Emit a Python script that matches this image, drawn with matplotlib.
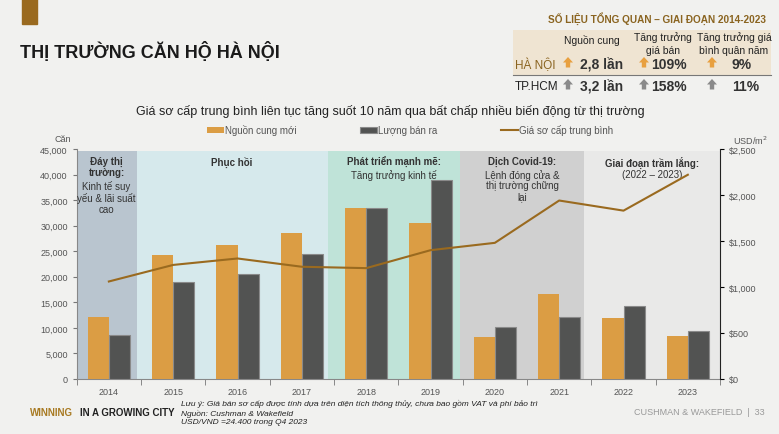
import numpy as np
import matplotlib
matplotlib.use("Agg")
import matplotlib.pyplot as plt
import matplotlib.patches as patches

plt.rcParams['font.family'] = ['Liberation Sans', 'DejaVu Sans']

years = ['2014', '2015', '2016', '2017', '2018', '2019', '2020', '2021', '2022', '2023']
supply = [12200, 24200, 26300, 28600, 33500, 30600, 8300, 16600, 11900, 8400]
sold = [8700, 19000, 20500, 24400, 33500, 38900, 10100, 12200, 14300, 9400]
price = [1060, 1240, 1310, 1220, 1205, 1400, 1480, 1940, 1830, 2220]

# phases: (start, end) in category units, colour, bold title, subtitle
phases = [
    (-0.5, 0.43, '#b9c5cf', 'Đáy thị\ntrường:', 'Kinh tế suy\nyếu & lãi suất\ncao'),
    (0.43, 3.40, '#d6e9ec', 'Phục hồi', ''),
    (3.40, 5.46, '#bfe3d8', 'Phát triển mạnh mẽ:', 'Tăng trưởng kinh tế'),
    (5.46, 7.39, '#d0d0d0', 'Dịch Covid-19:', 'Lệnh đóng cửa &\nthị trường chững\nlại'),
    (7.39, 9.5, '#e9e9e8', 'Giai đoạn trầm lắng:', '(2022 – 2023)'),
]

c_supply = '#db9d44'
c_sold = '#525352'
c_line = '#9a6a1f'
c_tick = '#555555'

W, H = 779, 435
fig = plt.figure(figsize=(7.79, 4.35), dpi=100)
fig.patch.set_facecolor('#f1f1ef')


def fx(px):
    return px / W


def fy(py):
    return 1 - py / H


ax = fig.add_axes([fx(76.7), 55 / H, (720 - 76.7) / W, 230 / H])
ax.set_facecolor('none')
x = np.arange(len(years))
ax.set_xlim(-0.5, 9.5)
ax.set_ylim(0, 45000)

for s, e, col, head, sub in phases:
    ax.axvspan(s, e, ymin=0, ymax=0.992, color=col, zorder=0, lw=0)
    cx = (s + e) / 2
    ax.text(cx, 43700, head, ha='center', va='top', fontsize=7, fontweight='bold',
            color='#333333', linespacing=1.1, zorder=5)
    if sub:
        nl = head.count('\n')
        ax.text(cx, 43700 - 2250 * (nl + 1) - 300, sub, ha='center', va='top', fontsize=7,
                color='#333333', linespacing=1.1, zorder=5)

w = 0.33
ax.bar(x - w / 2, supply, w, color=c_supply, zorder=3, label='Nguồn cung mới')
ax.bar(x + w / 2, sold, w, color=c_sold, edgecolor='#8a8a8a', linewidth=0.8, zorder=3,
       label='Lượng bán ra')

ax.set_yticks(np.arange(0, 45001, 5000))
ax.set_yticklabels([f'{v:,}' for v in range(0, 45001, 5000)])
ax.set_xticks(x)
ax.set_xticklabels(years)
ax.set_xticks(np.arange(-0.5, 10, 1), minor=True)
ax.tick_params(axis='x', which='major', length=0, labelsize=6.5, labelcolor=c_tick, pad=6)
ax.tick_params(axis='x', which='minor', length=4, color='#777777', direction='out')
ax.tick_params(axis='y', labelsize=6.5, labelcolor=c_tick, length=3, color='#777777')
for sp in ['top', 'right']:
    ax.spines[sp].set_visible(False)
ax.spines['left'].set_color('#888888')
ax.spines['bottom'].set_color('#888888')

ax2 = ax.twinx()
ax2.set_ylim(0, 2500)
ax2.plot(x, price, color=c_line, lw=1.5, zorder=6, label='Giá sơ cấp trung bình')
ax2.set_yticks(np.arange(0, 2501, 500))
ax2.set_yticklabels([f'${v:,}' for v in range(0, 2501, 500)])
ax2.tick_params(axis='y', labelsize=6.5, labelcolor=c_tick, length=3)
for sp in ['top', 'left', 'bottom']:
    ax2.spines[sp].set_visible(False)
ax2.spines['right'].set_color('#222222')

h1, l1 = ax.get_legend_handles_labels()
h2, l2 = ax2.get_legend_handles_labels()
fig.legend(h1 + h2, l1 + l2, loc='center', bbox_to_anchor=(fx(410), fy(131)), ncol=3,
           frameon=False, fontsize=7, handlelength=1.7, handletextpad=0.1, columnspacing=6.6,
           handleheight=0.6, labelcolor='#555555')

fig.text(fx(55), fy(140), 'Căn', fontsize=6.5, color=c_tick, ha='left', va='center')
fig.text(fx(733), fy(141), 'USD/m$^2$', fontsize=6.5, color=c_tick, ha='left', va='center')
fig.text(fx(390), fy(112),
         'Giá sơ cấp trung bình liên tục tăng suốt 10 năm qua bất chấp nhiều biến động từ thị trường',
         fontsize=9, color='#222222', ha='center', va='center')

# header
fig.patches.append(patches.Rectangle((fx(22), fy(25)), 15 / W, 25 / H,
                                     transform=fig.transFigure, color='#9a6a1f'))
fig.text(fx(20), fy(52), 'THỊ TRƯỜNG CĂN HỘ HÀ NỘI', fontsize=13, fontweight='bold',
         color='#1a1a1a', ha='left', va='center')

# summary table
fig.patches.append(patches.Rectangle((fx(513), fy(76)), 258 / W, 45 / H,
                                     transform=fig.transFigure, color='#efe4d2', lw=0))
fig.lines.append(plt.Line2D([fx(513), fx(771)], [fy(76), fy(76)],
                            transform=fig.transFigure, color='#777777', lw=0.8))
fig.text(fx(766), fy(19), 'SỐ LIỆU TỔNG QUAN – GIAI ĐOẠN 2014-2023', fontsize=7.2,
         fontweight='bold', color='#8a6420', ha='right', va='center')
heads = [(592, 'Nguồn cung'), (663, 'Tăng trưởng\ngiá bán'), (734, 'Tăng trưởng giá\nbình quân năm')]
for hx, ht in heads:
    fig.text(fx(hx), fy(44) if '\n' in ht else fy(41), ht, fontsize=7.5, color='#222222',
             ha='center', va='center', linespacing=1.3)


def up_arrow(cx, cy, col):
    # block arrow in pixel units, drawn in figure coords
    pts = [(cx - 5, cy), (cx, cy - 5.5), (cx + 5, cy), (cx + 2.2, cy),
           (cx + 2.2, cy + 5), (cx - 2.2, cy + 5), (cx - 2.2, cy)]
    fig.patches.append(patches.Polygon([(fx(a), fy(b)) for a, b in pts], closed=True,
                                       transform=fig.transFigure, color=col, lw=0))


rows = [(65, 'HÀ NỘI', '#8a6420', '#e8a040', ['2,8 lần', '109%', '9%']),
        (87, 'TP.HCM', '#222222', '#8a8a8a', ['3,2 lần', '158%', '11%'])]
for ry, name, ncol, acol, vals in rows:
    fig.text(fx(515), fy(ry), name, fontsize=8.5, color=ncol, ha='left', va='center')
    for axp, vx, v in zip([568, 644, 712], [580, 651, 732], vals):
        up_arrow(axp, ry - 1.5, acol)
        fig.text(fx(vx), fy(ry), v, fontsize=10, fontweight='bold', color='#333333',
                 ha='left', va='center')

# footer
fig.text(fx(30), fy(413), 'WINNING', fontsize=7, fontweight='bold', color='#a87a22',
         ha='left', va='center')
fig.text(fx(80), fy(413), 'IN A GROWING CITY', fontsize=7, fontweight='bold',
         color='#222222', ha='left', va='center')
notes = ['Lưu ý: Giá bán sơ cấp được tính dựa trên diện tích thông thủy, chưa bao gồm VAT và phí bảo trì',
         'Nguồn: Cushman & Wakefield', 'USD/VND =24.400 trong Q4 2023']
for i, n in enumerate(notes):
    fig.text(fx(181), fy(404 + 9.5 * i), n, fontsize=6, style='italic',
             color='#222222', ha='left', va='center')
fig.text(fx(765), fy(413), 'CUSHMAN & WAKEFIELD  |  33', fontsize=6.5, color='#999999',
         ha='right', va='center')

fig.savefig('out.png', dpi=100, facecolor=fig.get_facecolor())
